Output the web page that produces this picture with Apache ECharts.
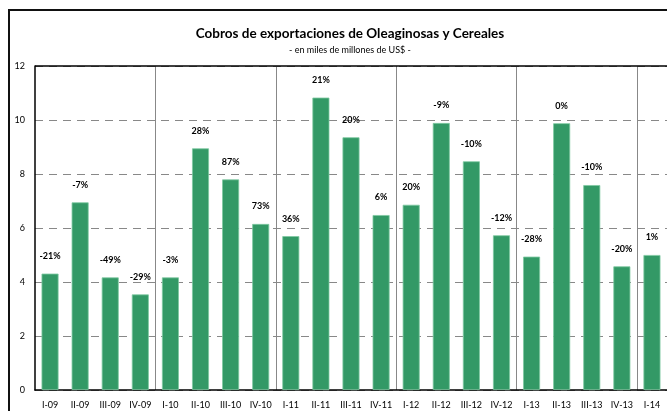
<!DOCTYPE html>
<html>
<head>
<meta charset="utf-8">
<script src="https://cdn.jsdelivr.net/npm/echarts@6/dist/echarts.min.js"></script>
<style>
  html, body { margin: 0; padding: 0; background: #fff; }
  #chart { width: 667px; height: 411px; }
</style>
</head>
<body>
<div id="chart"></div>
<script>
// trimestres
var categories = ["I-09", "II-09", "III-09", "IV-09", "I-10", "II-10", "III-10", "IV-10",
  "I-11", "II-11", "III-11", "IV-11", "I-12", "II-12", "III-12", "IV-12",
  "I-13", "II-13", "III-13", "IV-13", "I-14"];
// miles de millones de US$
var cobros = [4.31, 6.95, 4.17, 3.54, 4.17, 8.95, 7.8, 6.15,
  5.7, 10.83, 9.36, 6.48, 6.86, 9.89, 8.47, 5.73,
  4.94, 9.88, 7.59, 4.58, 5.0];
// variacion interanual
var variacion = ["-21%", "-7%", "-49%", "-29%", "-3%", "28%", "87%", "73%",
  "36%", "21%", "20%", "6%", "20%", "-9%", "-10%", "-12%",
  "-28%", "0%", "-10%", "-20%", "1%"];
var yTicks = [0, 2, 4, 6, 8, 10, 12];

var font = "Lato";
var chart = echarts.init(document.getElementById("chart"));

chart.setOption({
  animation: false,
  title: {
    text: "Cobros de exportaciones de Oleaginosas y Cereales",
    subtext: "- en miles de millones de US$ -",
    left: 345,
    textAlign: "center",
    top: 22,
    itemGap: 5,
    textStyle: { fontFamily: font, fontWeight: "bold", fontSize: 13.5, color: "#000" },
    subtextStyle: { fontFamily: font, fontSize: 9, color: "#000" }
  },
  graphic: [{
    type: "rect",
    shape: { x: 9, y: 10, width: 700, height: 450 },
    style: { fill: "none", stroke: "#111", lineWidth: 2 },
    silent: true
  }],
  grid: { left: 35, right: -3, top: 66, bottom: 21 },
  xAxis: {
    type: "category",
    data: categories,
    axisLine: { lineStyle: { color: "#000", width: 1.5 } },
    axisTick: { show: false },
    axisLabel: { fontFamily: font, fontSize: 9, color: "#000", margin: 11, interval: 0 },
    splitLine: {
      show: true,
      interval: function (idx) { return idx > 0 && idx % 4 === 0; },
      lineStyle: { color: "#888", width: 1 }
    }
  },
  yAxis: {
    type: "value",
    min: yTicks[0],
    max: yTicks[yTicks.length - 1],
    interval: 2,
    axisLine: { show: true, lineStyle: { color: "#000", width: 1.5 } },
    axisTick: { show: false },
    axisLabel: { fontFamily: font, fontSize: 9, color: "#000", margin: 10 },
    splitLine: {
      show: true,
      lineStyle: { color: "#888", type: [8, 6], width: 1 }
    }
  },
  series: [{
    type: "bar",
    data: cobros,
    barWidth: 17,
    itemStyle: { color: "#339966", borderColor: "#7fc9a2", borderWidth: 0.8 },
    label: {
      show: true,
      position: "top",
      distance: 13,
      formatter: function (p) { return variacion[p.dataIndex]; },
      fontFamily: font,
      fontWeight: "bold",
      fontSize: 9,
      color: "#000"
    },
    // borde superior del area de trazado
    markLine: {
      silent: true,
      symbol: "none",
      label: { show: false },
      lineStyle: { color: "#000", type: "solid", width: 1.5 },
      data: [{ yAxis: 12 }]
    }
  }]
});
</script>
</body>
</html>
